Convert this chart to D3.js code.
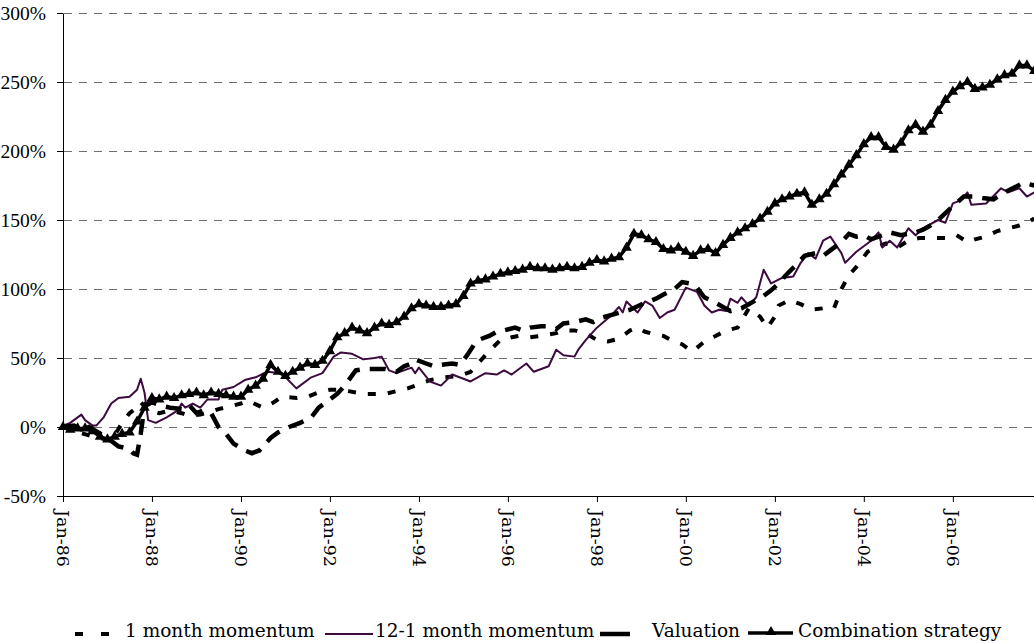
<!DOCTYPE html>
<html>
<head>
<meta charset="utf-8">
<script src="https://cdn.jsdelivr.net/npm/d3@7"></script>
<style>
  body { margin: 0; background: #fff; }
  svg { display: block; }
</style>
</head>
<body>
<svg id="chart" width="1034" height="643"></svg>
<script>
// Cumulative return (%) of each strategy. First number = months since Jan-86.
const oneMonth = [[0,0],[3,-3],[7,-6],[10,-8],[13,-10],[16,3],[18,10],[20,14],[21,18],[23,12],[26,10],
  [29,12],[32,10],[34,8],[37,9],[40,11],[42,13],[45,15],[48,17],[50,19],[54,14],[57,18],[59,22],[63,21],
  [66,22],[69,25],[72,27],[75,27],[77,26],[81,24],[83,24],[87,24],[90,26],[93,28],[96,31],[99,34],
  [103,36],[107,37],[110,40],[112,46],[115,55],[118,63],[121,65],[123,66],[126,65],[129,66],[133,68],
  [135,70],[138,70],[141,68],[144,63],[147,62],[150,64],[153,70],[155,72],[157,69],[160,67],[162,66],
  [164,63],[167,60],[169,56],[170,55],[173,62],[176,66],[179,70],[182,72],[185,86],[188,80],[190,72],
  [192,80],[193,88],[196,92],[199,89],[202,85],[205,86],[208,86],[210,100],[212,110],[214,116],
  [217,127],[219,130],[222,133],[225,130],[228,135],[231,137],[235,137],[238,137],[241,139],[244,134],
  [246,136],[249,138],[252,142],[255,144],[258,146],[260,148],[262,151]];

const twelveOne = [[0,1],[2,3],[5,9],[6,5],[8,1],[9,1],[11,7],[13,17],[15,21],[18,22],[20,27],[21,35],
  [22,25],[23,5],[25,3],[28,7],[31,12],[32,17],[33,14],[35,17],[37,14],[39,20],[42,20],[43,27],[46,29],
  [49,34],[52,36],[55,40],[59,39],[63,28],[67,36],[70,39],[73,51],[75,54],[78,53],[81,49],[84,50],
  [86,51],[88,41],[90,39],[94,43],[95,39],[96,43],[99,33],[102,30],[105,38],[110,33],[114,39],[117,38],
  [119,41],[121,38],[125,46],[127,40],[131,44],[133,56],[135,52],[138,51],[139,56],[141,63],[144,72],
  [148,81],[150,87],[151,83],[152,91],[155,83],[157,91],[159,88],[161,79],[163,83],[165,85],[168,101],
  [170,99],[171,98],[173,88],[175,83],[177,85],[179,84],[180,93],[182,90],[183,94],[185,88],[187,94],
  [189,114],[191,104],[194,108],[197,109],[199,119],[201,126],[203,122],[205,135],[207,138],[210,126],
  [211,119],[214,127],[218,135],[220,141],[221,130],[223,135],[225,130],[228,144],[230,139],[232,144],
  [236,150],[238,148],[240,162],[242,164],[244,170],[245,161],[249,162],[253,173],[255,170],[258,173],
  [260,167],[262,170]];

const valuation = [[0,0],[3,1],[5,-2],[7,0],[9,-3],[12,-8],[15,-14],[18,-16],[19,-19],[20,-20],[21,-5],
  [22,15],[24,18],[27,15],[29,14],[32,13],[34,16],[36,10],[38,12],[40,10],[42,0],[44,-5],[46,-12],
  [49,-17],[51,-19],[53,-17],[56,-8],[58,-4],[61,0],[64,3],[67,7],[69,14],[72,20],[74,24],[76,30],
  [79,41],[81,42],[84,42],[87,42],[90,40],[92,44],[94,46],[95,49],[98,46],[100,44],[102,45],[105,46],
  [107,45],[109,52],[111,60],[112,63],[115,66],[117,69],[119,70],[122,72],[124,70],[126,72],[129,73],
  [131,73],[133,71],[135,75],[138,76],[141,78],[143,76],[145,79],[149,82],[153,85],[157,90],[160,93],
  [162,96],[165,100],[167,105],[169,104],[171,101],[173,94],[176,90],[178,87],[180,84],[183,86],
  [187,92],[189,95],[191,99],[193,104],[195,110],[198,118],[200,124],[203,126],[205,124],[207,128],
  [210,134],[212,140],[214,138],[216,139],[218,136],[220,138],[223,141],[226,139],[230,141],[232,143],
  [234,146],[236,150],[238,155],[240,160],[243,167],[246,167],[248,166],[251,165],[254,170],[257,174],
  [259,177],[262,175]];

// combination strategy, one value every second month from Jan-86
const comboValues = [0,-2,-1,-1,-3,-7,-9,-7,-5,-4,4,14,21,20,22,21,23,24,25,23,25,24,23,22,22,27,30,35,
  45,40,37,40,43,46,45,48,55,65,68,72,70,68,72,75,74,76,80,86,89,88,87,87,88,89,95,104,106,107,109,111,
  112,113,114,116,115,115,114,115,116,115,116,119,121,120,122,123,130,140,139,136,134,129,128,130,127,
  124,128,129,126,132,137,141,144,147,151,156,162,165,167,169,170,161,165,169,176,183,190,197,205,210,
  210,203,201,206,215,219,214,219,229,237,243,247,250,245,246,248,252,255,256,262,262,258];
const comboMonths = comboValues.map((v, i) => i * 2);
const combination = comboValues.map((v, i) => [comboMonths[i], v]);

const yTicks = [-50, 0, 50, 100, 150, 200, 250, 300];
const xTickYears = [1986, 1988, 1990, 1992, 1994, 1996, 1998, 2000, 2002, 2004, 2006];
const legendNames = ['1 month momentum', '12-1 month momentum', 'Valuation', 'Combination strategy'];

const start = new Date(1986, 0, 1);
const toDate = m => d3.timeMonth.offset(start, m);

const svg = d3.select('#chart');

const x = d3.scaleTime()
  .domain([start, new Date(2007, 11, 1)])
  .range([63, 1038]);
const y = d3.scaleLinear()
  .domain([-50, 300])
  .range([496, 13]);

//dashed grey gridlines, shifted half a pixel so they stay crisp
svg.append('g')
  .attr('transform', 'translate(0,0.5)')
  .selectAll('line')
  .data(yTicks.filter(d => d > -50))
  .join('line')
  .attr('x1', 64).attr('x2', 1034)
  .attr('y1', d => y(d)).attr('y2', d => y(d))
  .attr('stroke', '#6e6e6e')
  .attr('stroke-width', 1)
  .attr('stroke-dasharray', '8,7');

//y axis
let yAxis = svg.append('g')
  .attr('transform', 'translate(63,0)')
  .call(d3.axisLeft(y).tickValues(yTicks).tickSize(6).tickSizeOuter(0).tickPadding(11)
    .tickFormat(d => d + '%'));
yAxis.selectAll('text')
  .style('font-family', '"Liberation Serif", serif')
  .style('font-size', '19.5px')
  .attr('fill', '#000');
yAxis.selectAll('line, path').attr('stroke', '#000');

//x axis
let xAxis = svg.append('g')
  .attr('transform', 'translate(0,496)')
  .call(d3.axisBottom(x).tickValues(xTickYears.map(yr => new Date(yr, 0, 1))).tickSize(6)
    .tickSizeOuter(0).tickFormat(d3.timeFormat('%b-%y')));
xAxis.selectAll('text')
  .attr('transform', 'rotate(90)')
  .attr('x', 14)
  .attr('y', 0)
  .attr('dy', '0.35em')
  .style('text-anchor', 'start')
  .style('font-family', '"DejaVu Serif", serif')
  .style('font-size', '17.5px')
  .attr('fill', '#000');
xAxis.selectAll('line, path').attr('stroke', '#000');

let lineFn = d3.line()
  .x(d => x(toDate(d[0])))
  .y(d => y(d[1]));

//series lines
svg.append('path').datum(oneMonth)
  .attr('d', lineFn)
  .attr('fill', 'none')
  .attr('stroke', '#000')
  .attr('stroke-width', 4)
  .attr('stroke-dasharray', '8,12');

svg.append('path').datum(twelveOne)
  .attr('d', lineFn)
  .attr('fill', 'none')
  .attr('stroke', '#3c0a3e')
  .attr('stroke-width', 2)
  .attr('stroke-linejoin', 'round');

svg.append('path').datum(valuation)
  .attr('d', lineFn)
  .attr('fill', 'none')
  .attr('stroke', '#000')
  .attr('stroke-width', 4.5)
  .attr('stroke-dasharray', '16,10');

svg.append('path').datum(combination)
  .attr('d', lineFn)
  .attr('fill', 'none')
  .attr('stroke', '#000')
  .attr('stroke-width', 3.5);

let tri = d3.symbol().type(d3.symbolTriangle).size(48);
svg.append('g').selectAll('path')
  .data(combination)
  .join('path')
  .attr('transform', d => 'translate(' + x(toDate(d[0])) + ',' + y(d[1]) + ')')
  .attr('d', tri)
  .attr('fill', '#000');

//legend
let legend = svg.append('g');
legend.append('line').attr('x1', 75).attr('x2', 110).attr('y1', 634).attr('y2', 634)
  .attr('stroke', '#000').attr('stroke-width', 4).attr('stroke-dasharray', '8,18');
legend.append('line').attr('x1', 325).attr('x2', 373).attr('y1', 634).attr('y2', 634)
  .attr('stroke', '#3c0a3e').attr('stroke-width', 2);
legend.append('line').attr('x1', 600).attr('x2', 630).attr('y1', 634).attr('y2', 634)
  .attr('stroke', '#000').attr('stroke-width', 4.5);
legend.append('line').attr('x1', 748).attr('x2', 793).attr('y1', 633).attr('y2', 633)
  .attr('stroke', '#000').attr('stroke-width', 3.5);
legend.append('path').attr('transform', 'translate(771,632)').attr('d', tri).attr('fill', '#000');

legend.selectAll('text')
  .data(legendNames)
  .join('text')
  .attr('x', (d, i) => [125, 375, 652, 798][i])
  .attr('y', 637)
  .style('font-family', '"DejaVu Serif", serif')
  .style('font-size', '18.5px')
  .attr('fill', '#000')
  .text(d => d);
</script>
</body>
</html>
